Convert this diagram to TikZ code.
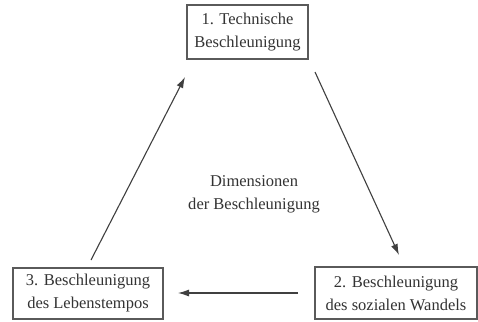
\documentclass[tikz,border=0pt]{standalone}
\usepackage{fontspec}
\setmainfont{Liberation Serif}
\usetikzlibrary{arrows.meta}
\definecolor{txt}{HTML}{333333}
\definecolor{edge}{HTML}{5A5A5A}
\definecolor{arr}{HTML}{404040}
\begin{document}
\begin{tikzpicture}[x=1pt,y=-1pt,
  box/.style={draw=edge, line width=1.4pt, inner sep=0pt, align=center,
    text=txt, font=\fontsize{16.5}{23}\selectfont},
  lbl/.style={inner sep=0pt, align=center, text=txt, font=\fontsize{16.5}{23}\selectfont},
  conn/.style={draw=arr, line width=1.1pt, -{Latex[length=11pt,width=7pt]}}]
\useasboundingbox[fill=white] (0,0) rectangle (478,321);
\node[box, minimum width=121pt, minimum height=54pt] (b1) at (247.5,32) {1. Technische\\Beschleunigung};
\node[box, minimum width=162pt, minimum height=52pt] (b2) at (396,293) {2. Beschleunigung\\des sozialen Wandels};
\node[box, minimum width=150pt, minimum height=51pt] (b3) at (88,293.5) {3. Beschleunigung\\des Lebenstempos};
\node[lbl] (c) at (254,194) {Dimensionen\\der Beschleunigung};
\coordinate (s12) at (315,72);
\coordinate (e12) at (399,255);
\coordinate (s23) at (298,293);
\coordinate (e23) at (178,293);
\coordinate (s31) at (91,260);
\coordinate (e31) at (185,77);
\draw[conn] (s12) -- (e12);
\draw[conn] (s23) -- (e23);
\draw[conn] (s31) -- (e31);
\end{tikzpicture}
\end{document}
